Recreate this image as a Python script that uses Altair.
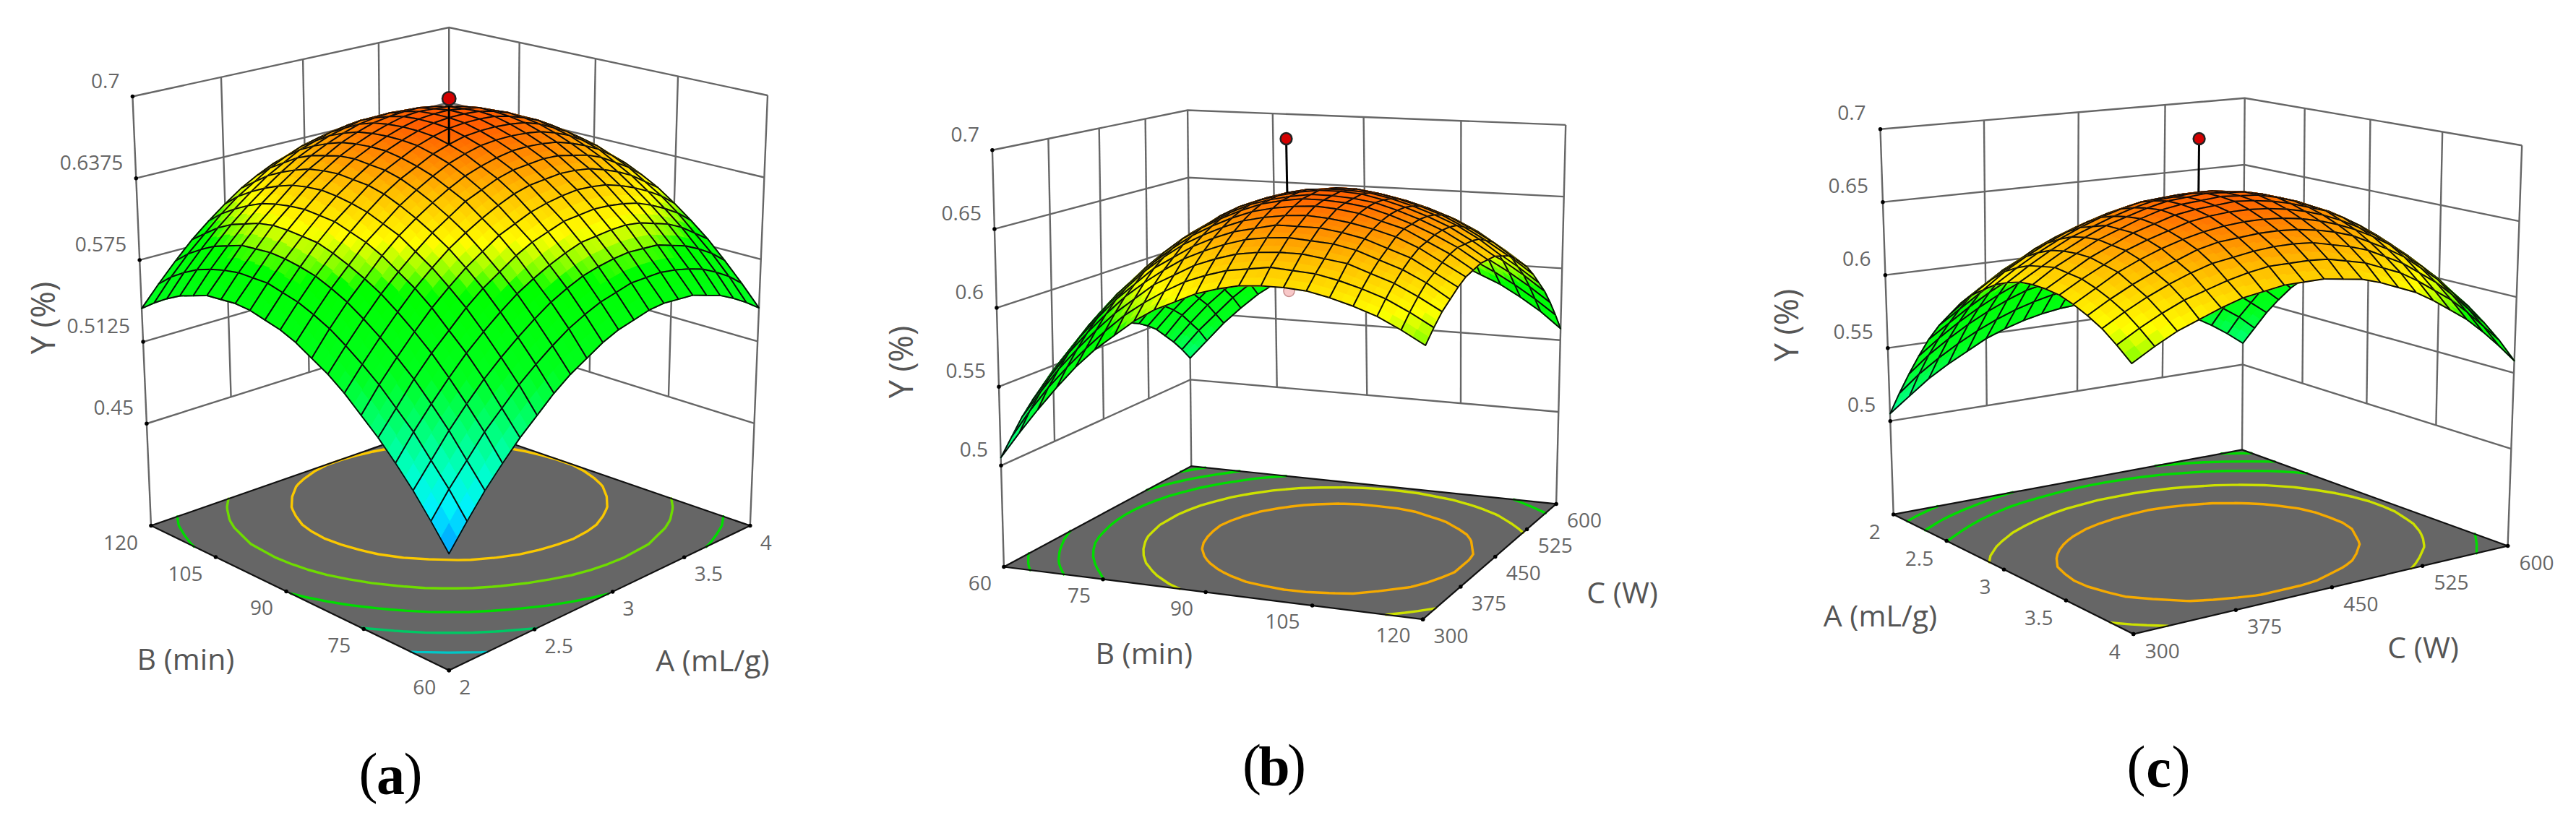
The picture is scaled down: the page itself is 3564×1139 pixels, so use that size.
import altair as alt

Y_AB = [
[452,469,485,499,512,523,534,543,550,557,562,565,568,569,568,567,563,559,553,546,538],
[469,486,501,516,528,540,550,559,567,573,578,581,584,584,584,582,579,575,569,562,553],
[485,501,517,531,544,555,565,574,582,588,593,596,598,599,598,597,593,589,583,576,567],
[499,516,531,545,558,569,579,588,595,601,606,610,611,612,612,610,606,602,596,588,580],
[512,528,544,558,570,582,592,600,608,614,618,622,623,624,623,621,618,613,607,600,591],
[523,540,555,569,582,593,603,611,619,624,629,632,634,635,634,632,628,623,617,610,601],
[534,550,565,579,592,603,613,621,628,634,639,642,643,644,643,641,637,632,626,618,610],
[543,559,574,588,600,611,621,629,637,642,647,650,651,652,651,648,645,640,633,626,617],
[550,567,582,595,608,619,628,636,643,649,653,656,658,658,657,655,651,646,640,632,623],
[557,573,588,601,614,624,634,642,649,655,659,662,663,663,662,660,656,651,644,637,627],
[562,578,593,606,618,629,639,647,653,659,663,666,667,667,666,664,660,654,648,640,631],
[565,581,596,610,622,632,642,650,656,662,666,669,670,670,669,666,662,657,650,642,633],
[568,584,598,611,623,634,643,651,658,663,667,670,671,671,670,667,663,657,651,643,633],
[569,584,599,612,624,635,644,652,658,663,667,670,671,671,669,667,662,657,650,642,632],
[568,584,598,612,623,634,643,651,657,662,666,669,670,669,668,665,661,655,648,640,630],
[567,582,597,610,621,632,641,648,655,660,664,666,667,667,665,662,658,652,645,637,627],
[563,579,593,606,618,628,637,645,651,656,660,662,663,662,661,658,653,647,640,632,622],
[559,575,589,602,613,623,632,640,646,651,654,657,657,657,655,652,647,642,634,626,616],
[553,569,583,596,607,617,626,633,640,644,648,650,651,650,648,645,640,634,627,619,609],
[546,562,576,588,600,610,618,626,632,637,640,642,643,642,640,637,632,626,619,610,600],
[538,553,567,580,591,601,610,617,623,627,631,633,633,632,630,627,622,616,609,600,590],
]
Y_BC = [
[505,522,538,553,567,579,589,599,607,613,619,623,626,627,627,626,623,619,614,607,599],
[515,533,549,563,576,588,599,608,616,623,628,632,634,636,635,634,631,627,622,615,607],
[525,542,558,572,585,597,607,617,624,631,636,640,642,643,643,641,639,634,629,622,614],
[533,550,566,580,593,605,615,624,632,638,643,647,649,650,649,648,645,640,635,628,619],
[540,557,573,587,600,611,622,630,638,644,649,652,655,655,655,653,650,645,640,632,624],
[547,563,579,593,605,617,627,636,643,649,654,657,659,660,659,657,654,650,644,636,628],
[552,568,584,598,610,621,631,640,647,653,658,661,663,664,663,661,657,653,646,639,630],
[556,572,587,601,614,625,635,643,650,656,661,664,666,666,665,663,659,654,648,641,632],
[559,575,590,604,616,627,637,645,652,658,662,665,667,667,666,664,660,655,649,641,632],
[561,577,592,606,618,629,638,647,654,659,663,666,668,668,667,664,660,655,649,641,632],
[562,578,593,606,618,629,639,647,654,659,663,666,667,667,666,663,659,654,648,640,630],
[562,578,593,606,618,629,638,646,652,658,662,664,666,666,664,661,657,652,645,637,628],
[561,577,591,605,616,627,636,644,650,656,659,662,663,663,661,658,654,649,642,634,624],
[559,575,589,602,614,624,633,641,647,652,656,658,659,659,657,654,650,645,638,629,619],
[556,572,586,599,610,620,629,637,643,648,652,654,655,654,653,649,645,639,632,624,614],
[552,567,581,594,606,616,625,632,638,643,646,648,649,649,647,643,639,633,626,617,607],
[547,562,576,589,600,610,619,626,632,636,640,642,642,642,640,636,632,626,618,609,599],
[540,556,569,582,593,603,612,619,625,629,632,634,635,634,632,628,623,617,610,601,591],
[533,548,562,574,585,595,604,611,616,621,624,625,626,625,623,619,614,608,600,591,581],
[525,540,553,566,577,586,595,601,607,611,614,616,616,615,612,609,604,597,589,580,570],
[516,530,544,556,567,576,584,591,597,601,604,605,605,604,601,598,592,586,578,569,558],
]
Y_AC = Y_BC  # the A and C reading of panel (c) agrees with panel (b) within reading accuracy

COLOR_Z = [0.458,0.475,0.495,0.52,0.545,0.59,0.60,0.615,0.64,0.655,0.67]
COLOR_C = [(0,170,255),(0,240,255),(0,255,200),(0,255,110),(0,255,30),(0,255,0),(130,255,0),(255,255,0),(255,190,0),(255,140,0),(255,90,0)]
LEVELS_AB = [0.4875,0.5245,0.5605,0.5975,0.6335]
LEVELS_C = [0.5275,0.5535,0.5795,0.6115,0.6405]


def ramp(z):
    if z <= COLOR_Z[0]:
        c = COLOR_C[0]
    elif z >= COLOR_Z[-1]:
        c = COLOR_C[-1]
    else:
        k = next(i for i in range(len(COLOR_Z)-1) if COLOR_Z[i] <= z <= COLOR_Z[i+1])
        f = (z-COLOR_Z[k])/(COLOR_Z[k+1]-COLOR_Z[k])
        c = tuple(round(a+f*(b-a)) for a,b in zip(COLOR_C[k],COLOR_C[k+1]))
    return "#%02x%02x%02x" % tuple(c)


PANELS = [
 dict(table=Y_AB, zfloor=0.372, zticks=[0.45,0.5125,0.575,0.6375,0.7], ztext=["0.45","0.5125","0.575","0.6375","0.7"],
      floor=[(621.2,927.8),(1037.8,727.5),(621.2,583.8),(209,727.5)],
      top=[(621.2,266.2),(1062,132),(621.2,38.1),(183.4,133.5)],
      path=[(-1,1),(1,1),(1,-1)], back="ab", levels=LEVELS_AB,
      laxis=("u",-1,["60","75","90","105","120"]), raxis=("v",-1,["2","2.5","3","3.5","4"]),
      contour=["#00c8c8","#00c864","#00dc00","#6edc00","#fac800"], dot=0.698, dot_size=340, pink=None,
      ydx=(-18,-20), ldx=(-18,25), rdx=(14,25),
      titles=[("B (min)",257,915),("A (mL/g)",986,917)], ytitle=(62,440), cap=("a",540.5,1076)),
 dict(table=Y_BC, zfloor=0.4358, zticks=[0.5,0.55,0.6,0.65,0.7], ztext=["0.5","0.55","0.6","0.65","0.7"],
      floor=[(1388.9,784.5),(1968.6,857.2),(2153.1,697.4),(1648.2,645.1)],
      top=[(1372.9,207.8),(1974.4,243.4),(2166.2,172.9),(1643.1,152.5)],
      path=[(-1,-1),(-1,1),(1,1)], back="bc", levels=LEVELS_C,
      laxis=("v",-1,["60","75","90","105","120"]), raxis=("u",1,["300","375","450","525","600"]),
      contour=["#00dc00","#00dc00","#00dc00","#cde100","#f5aa00"], dot=0.699, dot_size=250, pink=0.5975,
      ydx=(-18,-20), ldx=(-17,24), rdx=(15,25),
      titles=[("B (min)",1582.8,906.6),("C (W)",2244.6,823)], ytitle=(1249.4,501), cap=("b",1763,1064)),
 dict(table=Y_AC, zfloor=0.436, zticks=[0.5,0.55,0.6,0.65,0.7], ztext=["0.5","0.55","0.6","0.65","0.7"],
      floor=[(2619.7,711.9),(2951.7,877.5),(3469.6,755.5),(3102,622.5)],
      top=[(2601.5,178.7),(2948,271),(3489.2,201.2),(3105.7,135.8)],
      path=[(-1,-1),(-1,1),(1,1)], back="bc", levels=LEVELS_C,
      laxis=("v",-1,["2","2.5","3","3.5","4"]), raxis=("u",1,["300","375","450","525","600"]),
      contour=["#00dc00","#00dc00","#00dc00","#cde100","#f5aa00"], dot=0.699, dot_size=250, pink=None,
      ydx=(-20,-21), ldx=(-18,26), rdx=(16,25),
      titles=[("A (mL/g)",2601.5,855),("C (W)",3352.6,898.6)], ytitle=(2474.4,450), cap=("c",2986.5,1066)),
]

M = 8  # page margin


def homography(q):
    (x0,y0),(x1,y1),(x2,y2),(x3,y3) = q
    dx1,dx2,sx = x1-x2, x3-x2, x0-x1+x2-x3
    dy1,dy2,sy = y1-y2, y3-y2, y0-y1+y2-y3
    den = dx1*dy2-dx2*dy1
    g = (sx*dy2-dx2*sy)/den
    h = (dx1*sy-sx*dy1)/den
    a,b,c = x1-x0+g*x1, x3-x0+h*x3, x0
    d,e,f = y1-y0+g*y1, y3-y0+h*y3, y0
    def fn(s,t):
        w = g*s+h*t+1
        return (a*s+b*t+c)/w, (d*s+e*t+f)/w
    return fn


def projector(p):
    fl, tp = homography(p["floor"]), homography(p["top"])
    zf = p["zfloor"]
    def proj(u,v,z=None):
        s,t = (u+1)/2,(v+1)/2
        x0,y0 = fl(s,t)
        if z is None:
            return [round(x0-M,2), round(y0-M,2)]
        x1,y1 = tp(s,t)
        w = (z-zf)/(0.7-zf)
        return [round(x0+w*(x1-x0)-M,2), round(y0+w*(y1-y0)-M,2)]
    return proj


def feature(kind, coords, **props):
    return {"type":"Feature","geometry":{"type":kind,"coordinates":coords},"properties":props}


def contour_segments(tab, level, n=21):
    segs = []
    for j in range(n-1):
        for i in range(n-1):
            nodes = [(i,j),(i+1,j),(i+1,j+1),(i,j+1)]
            vals = [tab[b][a]/1000 for a,b in nodes]
            pts = []
            for k in range(4):
                a,b = vals[k], vals[(k+1)%4]
                if (a-level)*(b-level) < 0:
                    f = (level-a)/(b-a)
                    p0,p1 = nodes[k], nodes[(k+1)%4]
                    pts.append((p0[0]+f*(p1[0]-p0[0]), p0[1]+f*(p1[1]-p0[1])))
            for k in range(0,len(pts)-1,2):
                segs.append((pts[k],pts[k+1]))
    return segs


def blend(q, vals, s, t):
    """screen point and colour value inside one mesh cell, so each cell shades as in the reference"""
    w = ((1-s)*(1-t), s*(1-t), s*t, (1-s)*t)
    x = sum(wi*c[0] for wi,c in zip(w,q))
    y = sum(wi*c[1] for wi,c in zip(w,q))
    z = sum(wi*v for wi,v in zip(w,vals))
    return [round(x,2),round(y,2)], z


walls, floors, contours, edges, surfaces, stems = [],[],[],[],[],[]
dots, pinks, tick_dots = [],[],[]
txt_r, txt_l, titles, ytitles, caps_p, caps_b = [],[],[],[],[],[]
STEPS = [-1,-0.5,0,0.5,1]

for p in PANELS:
    P = projector(p)
    tab = p["table"]
    zmin, zs = p["zticks"][0], p["zticks"]
    path = p["path"]
    for z in zs:
        walls.append(feature("LineString",[P(u,v,z) for u,v in path]))
    for idx,(u,v) in enumerate(path):
        walls.append(feature("LineString",[P(u,v,0.0+p["zfloor"]),P(u,v,0.7)]))
    for a,b in (path[0],path[1]),(path[1],path[2]):
        for f in (0.25,0.5,0.75):
            u = a[0]+f*(b[0]-a[0]); v = a[1]+f*(b[1]-a[1])
            walls.append(feature("LineString",[P(u,v,zmin),P(u,v,0.7)]))
    corners = [P(-1,-1),P(1,-1),P(1,1),P(-1,1),P(-1,-1)]
    floors.append(feature("Polygon",[corners]))
    edges.append(feature("LineString",corners))
    for lev,col in zip(p["levels"],p["contour"]):
        lines = [[P(a[0]/10-1,a[1]/10-1),P(b[0]/10-1,b[1]/10-1)] for a,b in contour_segments(tab,lev)]
        if lines:
            contours.append(feature("MultiLineString",lines,color=col))
    cells = [(i,j) for j in range(20) for i in range(20)]
    if p["back"]=="ab":
        cells.sort(key=lambda c:-(c[0]+c[1]))
    else:
        cells.sort(key=lambda c:(c[0]-c[1]))
    for i,j in cells:
        nodes = ((i,j),(i+1,j),(i+1,j+1),(i,j+1))
        vals = [tab[b][a]/1000 for a,b in nodes]
        q = [P(a/10-1,b/10-1,tab[b][a]/1000) for a,b in nodes]
        for sa,sb,ta,tb in ((0,.5,0,.5),(.5,1,0,.5),(.5,1,.5,1),(0,.5,.5,1)):
            ring = [blend(q,vals,s,t)[0] for s,t in ((sa,ta),(sb,ta),(sb,tb),(sa,tb),(sa,ta))]
            col = ramp(blend(q,vals,(sa+sb)/2,(ta+tb)/2)[1])
            surfaces.append(feature("Polygon",[ring],fc=col,sc=col))
        surfaces.append(feature("Polygon",[q+[q[0]]],fc="transparent",sc="#0a0a0a"))
    stems.append(feature("LineString",[P(0,0,tab[10][10]/1000),P(0,0,p["dot"])]))
    x,y = P(0,0,p["dot"])
    dots.append(dict(x=x,y=y,s=p["dot_size"]))
    if p["pink"]:
        x,y = P(0,0,p["pink"])
        pinks.append(dict(x=x,y=y))
    zc = path[0]
    for z,t in zip(zs,p["ztext"]):
        x,y = P(zc[0],zc[1],z)
        tick_dots.append(dict(x=x,y=y))
        txt_r.append(dict(x=x+p["ydx"][0],y=y+p["ydx"][1],t=t))
    ax,val,labs = p["laxis"]
    for s,t in zip(STEPS,labs):
        x,y = P(val,s) if ax=="u" else P(s,val)
        tick_dots.append(dict(x=x,y=y))
        txt_r.append(dict(x=x+p["ldx"][0],y=y+p["ldx"][1],t=t))
    ax,val,labs = p["raxis"]
    for s,t in zip(STEPS,labs):
        x,y = P(val,s) if ax=="u" else P(s,val)
        tick_dots.append(dict(x=x,y=y))
        txt_l.append(dict(x=x+p["rdx"][0],y=y+p["rdx"][1],t=t))
    for t,x,y in p["titles"]:
        titles.append(dict(x=x-M,y=y-M,t=t))
    ytitles.append(dict(x=p["ytitle"][0]-M,y=p["ytitle"][1]-M,t="Y (%)"))
    c,x,y = p["cap"]
    caps_b.append(dict(x=x-M,y=y-M,t=c))
    caps_p.append(dict(x=x-M-31,y=y-M-3,t="("))
    caps_p.append(dict(x=x-M+31,y=y-M-3,t=")"))

PROJ = dict(type="identity", scale=1, translate=[0,0])
X = alt.X("x:Q", scale=None, axis=None)
Y = alt.Y("y:Q", scale=None, axis=None)


def shape(rows, **mark):
    return alt.Chart(alt.Data(values=rows)).mark_geoshape(**mark).project(**PROJ)


def text(rows, **mark):
    return alt.Chart(alt.Data(values=rows)).mark_text(**mark).encode(x=X,y=Y,text="t:N")


layers = [
    shape(walls, filled=False, stroke="#666666", strokeWidth=2.4),
    shape(floors, fill="#666666", stroke="#000000", strokeWidth=0),
    shape(contours, filled=False, strokeWidth=3.4, strokeCap="round").encode(stroke=alt.Stroke("properties.color:N", scale=None)),
    shape(edges, filled=False, stroke="#111111", strokeWidth=2.2),
    alt.Chart(alt.Data(values=tick_dots)).mark_circle(size=30, color="#000000", opacity=1).encode(x=X,y=Y),
    alt.Chart(alt.Data(values=pinks)).mark_circle(size=230, fill="#f8c8c8", stroke="#c89090", strokeWidth=1.5, opacity=1).encode(x=X,y=Y),
    shape(surfaces, strokeWidth=1.9, strokeJoin="round").encode(
        fill=alt.Fill("properties.fc:N", scale=None),
        stroke=alt.Stroke("properties.sc:N", scale=None)),
    shape(stems, filled=False, stroke="#000000", strokeWidth=3),
    alt.Chart(alt.Data(values=dots)).mark_circle(fill="#d40000", stroke="#222222", strokeWidth=2.5, opacity=1).encode(
        x=X,y=Y,size=alt.Size("s:Q", scale=None)),
    text(txt_r, align="right", baseline="middle", font="Open Sans", fontSize=28, color="#666666"),
    text(txt_l, align="left", baseline="middle", font="Open Sans", fontSize=28, color="#666666"),
    text(titles, align="center", baseline="middle", font="Open Sans", fontSize=41, color="#555555"),
    text(ytitles, align="center", baseline="middle", font="Open Sans", fontSize=45, color="#555555", angle=270),
    text(caps_p, align="center", baseline="middle", font="Liberation Serif", fontSize=78, color="#000000"),
    text(caps_b, align="center", baseline="middle", font="Liberation Serif", fontSize=78, fontWeight="bold", color="#000000"),
]

chart = alt.layer(*layers).properties(width=3548, height=1120, padding=0, background="white",
        autosize=alt.AutoSizeParams(type="none")).configure_view(stroke=None)
chart.save("out.html", embed_options={"renderer": "svg", "actions": False})
